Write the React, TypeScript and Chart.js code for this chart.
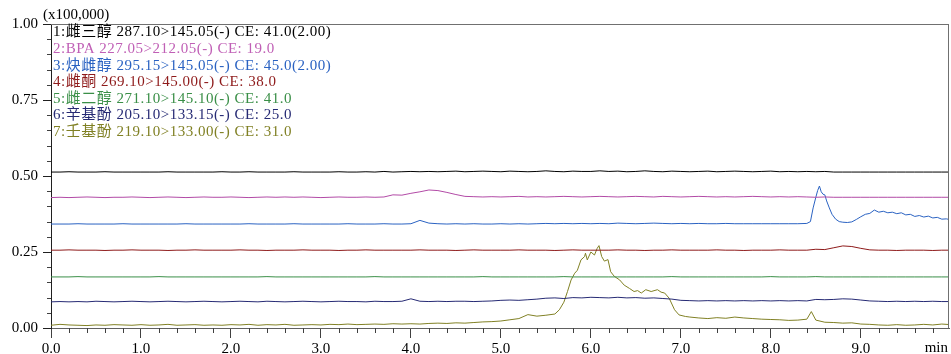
import React, { useEffect, useRef } from "react";
import { Chart, registerables } from "chart.js";

Chart.register(...registerables);

// ---- time axis (min) shared by most traces ----
const timeGrid = [
  0.0, 0.1, 0.2, 0.3, 0.4, 0.5, 0.6, 0.7, 0.8, 0.9,
  1.0, 1.1, 1.2, 1.3, 1.4, 1.5, 1.6, 1.7, 1.8, 1.9,
  2.0, 2.1, 2.2, 2.3, 2.4, 2.5, 2.6, 2.7, 2.8, 2.9,
  3.0, 3.1, 3.2, 3.3, 3.4, 3.5, 3.6, 3.7, 3.8, 3.9,
  4.0, 4.1, 4.2, 4.3, 4.4, 4.5, 4.6, 4.7, 4.8, 4.9,
  5.0, 5.1, 5.2, 5.3, 5.4, 5.5, 5.6, 5.7, 5.8, 5.9,
  6.0, 6.1, 6.2, 6.3, 6.4, 6.5, 6.6, 6.7, 6.8, 6.9,
  7.0, 7.1, 7.2, 7.3, 7.4, 7.5, 7.6, 7.7, 7.8, 7.9,
  8.0, 8.1, 8.2, 8.3, 8.4, 8.5, 8.6, 8.7, 8.8, 8.9,
  9.0, 9.1, 9.2, 9.3, 9.4, 9.5, 9.6, 9.7, 9.8, 9.9, 10.0,
];

// 1: 雌三醇 (black)
const estriol = [
  0.513, 0.513, 0.514, 0.513, 0.513, 0.513, 0.514, 0.513, 0.513, 0.513,
  0.513, 0.513, 0.513, 0.514, 0.513, 0.513, 0.513, 0.513, 0.513, 0.514,
  0.513, 0.513, 0.514, 0.513, 0.513, 0.513, 0.513, 0.514, 0.513, 0.513,
  0.513, 0.513, 0.514, 0.513, 0.513, 0.514, 0.513, 0.515, 0.513, 0.514,
  0.515, 0.514, 0.515, 0.514, 0.515, 0.516, 0.514, 0.515, 0.516, 0.515,
  0.514, 0.516, 0.515, 0.514, 0.515, 0.517, 0.515, 0.514, 0.516, 0.515,
  0.515, 0.517, 0.515, 0.516, 0.514, 0.515, 0.517, 0.515, 0.514, 0.516,
  0.515, 0.514, 0.515, 0.516, 0.514, 0.515, 0.516, 0.515, 0.514, 0.515,
  0.516, 0.514, 0.515, 0.514, 0.515, 0.514, 0.515, 0.513, 0.513, 0.513,
  0.513, 0.513, 0.513, 0.513, 0.513, 0.513, 0.513, 0.513, 0.513, 0.513, 0.513,
];

// 2: BPA (magenta)
const bpa = [
  0.429, 0.430, 0.429, 0.430, 0.431, 0.430, 0.429, 0.430, 0.430, 0.431,
  0.430, 0.429, 0.430, 0.431, 0.430, 0.429, 0.430, 0.431, 0.430, 0.430,
  0.431, 0.430, 0.429, 0.430, 0.431, 0.430, 0.431, 0.430, 0.431, 0.430,
  0.429, 0.430, 0.431, 0.430, 0.430, 0.431, 0.430, 0.431, 0.438, 0.437,
  0.443, 0.448, 0.454, 0.452, 0.446, 0.439, 0.433, 0.432, 0.431, 0.432,
  0.431, 0.432, 0.433, 0.431, 0.432, 0.431, 0.432, 0.433, 0.432, 0.431,
  0.432, 0.433, 0.432, 0.431, 0.432, 0.433, 0.432, 0.431, 0.433, 0.432,
  0.431, 0.432, 0.433, 0.432, 0.431, 0.432, 0.431, 0.432, 0.433, 0.432,
  0.431, 0.432, 0.431, 0.432, 0.431, 0.430, 0.431, 0.430, 0.430, 0.430,
  0.430, 0.430, 0.430, 0.430, 0.430, 0.430, 0.430, 0.430, 0.430, 0.430, 0.430,
];

// 3: 炔雌醇 (blue) — own time axis, finer around the 8.5 min peak
const ethinylTime = [
  0.0, 0.1, 0.2, 0.3, 0.4, 0.5, 0.6, 0.7, 0.8, 0.9,
  1.0, 1.1, 1.2, 1.3, 1.4, 1.5, 1.6, 1.7, 1.8, 1.9,
  2.0, 2.1, 2.2, 2.3, 2.4, 2.5, 2.6, 2.7, 2.8, 2.9,
  3.0, 3.1, 3.2, 3.3, 3.4, 3.5, 3.6, 3.7, 3.8, 3.9,
  4.0, 4.1, 4.2, 4.3, 4.4, 4.5, 4.6, 4.7, 4.8, 4.9,
  5.0, 5.1, 5.2, 5.3, 5.4, 5.5, 5.6, 5.7, 5.8, 5.9,
  6.0, 6.1, 6.2, 6.3, 6.4, 6.5, 6.6, 6.7, 6.8, 6.9,
  7.0, 7.1, 7.2, 7.3, 7.4, 7.5, 7.6, 7.7, 7.8, 7.9,
  8.0, 8.1, 8.2, 8.3, 8.4,
  8.44, 8.47, 8.5, 8.52, 8.54, 8.56, 8.58, 8.6, 8.62, 8.65,
  8.68, 8.72, 8.76, 8.8, 8.85, 8.9, 8.95, 9.0,
  9.05, 9.1, 9.15, 9.2, 9.25, 9.3, 9.35, 9.4, 9.45, 9.5,
  9.55, 9.6, 9.65, 9.7, 9.75, 9.8, 9.85, 9.9, 9.95, 10.0,
];
const ethinyl = [
  0.342, 0.342, 0.342, 0.343, 0.342, 0.342, 0.342, 0.342, 0.343, 0.342,
  0.342, 0.342, 0.342, 0.342, 0.342, 0.343, 0.342, 0.342, 0.342, 0.342,
  0.342, 0.342, 0.343, 0.342, 0.342, 0.342, 0.342, 0.343, 0.342, 0.342,
  0.342, 0.342, 0.342, 0.343, 0.342, 0.342, 0.342, 0.343, 0.342, 0.342,
  0.343, 0.354, 0.345, 0.343, 0.342, 0.343, 0.342, 0.343, 0.342, 0.342,
  0.343, 0.342, 0.343, 0.342, 0.343, 0.344, 0.343, 0.344, 0.343, 0.344,
  0.343, 0.344, 0.343, 0.345, 0.344, 0.343, 0.344, 0.345, 0.344, 0.343,
  0.344, 0.343, 0.344, 0.343, 0.343, 0.344, 0.343, 0.343, 0.343, 0.343,
  0.343, 0.343, 0.343, 0.343, 0.344,
  0.350, 0.395, 0.430, 0.452, 0.467, 0.448, 0.440, 0.438, 0.418, 0.395,
  0.374, 0.358, 0.350, 0.348, 0.347, 0.349, 0.357, 0.366,
  0.374, 0.377, 0.388, 0.381, 0.384, 0.379, 0.381, 0.376, 0.379, 0.372,
  0.374, 0.367, 0.370, 0.365, 0.368, 0.362, 0.364, 0.358, 0.359, 0.356,
];

// 4: 雌酮 (dark red)
const estrone = [
  0.256, 0.256, 0.257, 0.256, 0.256, 0.256, 0.255, 0.256, 0.256, 0.257,
  0.256, 0.256, 0.256, 0.255, 0.256, 0.256, 0.257, 0.256, 0.256, 0.256,
  0.256, 0.257, 0.256, 0.256, 0.255, 0.256, 0.256, 0.256, 0.257, 0.256,
  0.256, 0.256, 0.255, 0.256, 0.256, 0.257, 0.256, 0.256, 0.256, 0.256,
  0.256, 0.257, 0.256, 0.256, 0.256, 0.255, 0.256, 0.257, 0.256, 0.256,
  0.256, 0.256, 0.257, 0.256, 0.256, 0.256, 0.255, 0.256, 0.257, 0.256,
  0.256, 0.256, 0.256, 0.257, 0.256, 0.256, 0.255, 0.256, 0.256, 0.257,
  0.256, 0.256, 0.256, 0.256, 0.257, 0.256, 0.256, 0.255, 0.256, 0.256,
  0.256, 0.257, 0.256, 0.256, 0.256, 0.259, 0.258, 0.264, 0.270, 0.268,
  0.262, 0.257, 0.256, 0.256, 0.255, 0.256, 0.256, 0.256, 0.255, 0.256, 0.256,
];

// 5: 雌二醇 (green)
const estradiol = [
  0.168, 0.168, 0.168, 0.169, 0.168, 0.168, 0.168, 0.168, 0.168, 0.168,
  0.168, 0.168, 0.169, 0.168, 0.168, 0.168, 0.168, 0.168, 0.168, 0.168,
  0.168, 0.168, 0.168, 0.168, 0.169, 0.168, 0.168, 0.168, 0.168, 0.168,
  0.168, 0.168, 0.168, 0.168, 0.168, 0.168, 0.169, 0.168, 0.168, 0.168,
  0.168, 0.168, 0.168, 0.168, 0.168, 0.168, 0.168, 0.168, 0.169, 0.168,
  0.168, 0.168, 0.168, 0.168, 0.168, 0.168, 0.168, 0.169, 0.168, 0.168,
  0.168, 0.168, 0.168, 0.168, 0.168, 0.168, 0.168, 0.168, 0.168, 0.169,
  0.168, 0.168, 0.168, 0.168, 0.168, 0.168, 0.168, 0.168, 0.168, 0.168,
  0.169, 0.168, 0.168, 0.168, 0.168, 0.169, 0.168, 0.168, 0.168, 0.168,
  0.168, 0.168, 0.168, 0.168, 0.168, 0.168, 0.168, 0.168, 0.168, 0.168, 0.168,
];

// 6: 辛基酚 (navy)
const octylphenol = [
  0.086, 0.087, 0.086, 0.087, 0.086, 0.088, 0.087, 0.086, 0.087, 0.088,
  0.087, 0.086, 0.087, 0.088, 0.087, 0.086, 0.087, 0.088, 0.087, 0.086,
  0.087, 0.088, 0.087, 0.086, 0.088, 0.087, 0.086, 0.087, 0.088, 0.087,
  0.086, 0.087, 0.088, 0.087, 0.087, 0.086, 0.088, 0.087, 0.087, 0.088,
  0.096, 0.088, 0.087, 0.088, 0.087, 0.088, 0.088, 0.087, 0.088, 0.089,
  0.091, 0.092, 0.091, 0.093, 0.095, 0.098, 0.099, 0.097, 0.100, 0.099,
  0.101, 0.100, 0.099, 0.101, 0.099, 0.100, 0.098, 0.099, 0.097, 0.095,
  0.091, 0.090, 0.089, 0.090, 0.089, 0.090, 0.089, 0.090, 0.089, 0.090,
  0.089, 0.090, 0.089, 0.090, 0.089, 0.094, 0.093, 0.094, 0.096, 0.095,
  0.092, 0.089, 0.088, 0.087, 0.088, 0.087, 0.088, 0.087, 0.088, 0.087, 0.087,
];

// 7: 壬基酚 (olive) — own time axis, finer across the 5.5–7.0 min peak
const nonylTime = [
  0.0, 0.1, 0.2, 0.3, 0.4, 0.5, 0.6, 0.7, 0.8, 0.9,
  1.0, 1.1, 1.2, 1.3, 1.4, 1.5, 1.6, 1.7, 1.8, 1.9,
  2.0, 2.1, 2.2, 2.3, 2.4, 2.5, 2.6, 2.7, 2.8, 2.9,
  3.0, 3.1, 3.2, 3.3, 3.4, 3.5, 3.6, 3.7, 3.8, 3.9,
  4.0, 4.1, 4.2, 4.3, 4.4, 4.5, 4.6, 4.7, 4.8, 4.9,
  5.0, 5.1, 5.2, 5.3, 5.4, 5.5,
  5.6, 5.65, 5.7, 5.74, 5.78, 5.82, 5.85, 5.89, 5.93, 5.94,
  5.96, 6.0, 6.04, 6.07, 6.09, 6.12, 6.15, 6.19, 6.22, 6.26,
  6.32, 6.37, 6.43, 6.48, 6.52, 6.56, 6.61, 6.67, 6.74, 6.78,
  6.82, 6.87, 6.93, 6.98, 7.05,
  7.1, 7.2, 7.3, 7.4, 7.5, 7.6, 7.7, 7.8, 7.9,
  8.0, 8.1, 8.2, 8.3, 8.4, 8.45, 8.5, 8.6, 8.7, 8.8, 8.9,
  9.0, 9.1, 9.2, 9.3, 9.4, 9.5, 9.6, 9.7, 9.8, 9.9, 10.0,
];
const nonylphenol = [
  0.009, 0.012, 0.010, 0.009, 0.008, 0.010, 0.009, 0.011, 0.010, 0.009,
  0.011, 0.009, 0.010, 0.012, 0.009, 0.010, 0.011, 0.009, 0.010, 0.009,
  0.011, 0.010, 0.012, 0.009, 0.011, 0.010, 0.012, 0.009, 0.010, 0.011,
  0.010, 0.012, 0.011, 0.013, 0.011, 0.012, 0.013, 0.012, 0.014, 0.013,
  0.014, 0.013, 0.015, 0.016, 0.015, 0.017, 0.016, 0.018, 0.020, 0.021,
  0.023, 0.027, 0.031, 0.044, 0.039, 0.042,
  0.046, 0.060, 0.085, 0.120, 0.158, 0.180, 0.190, 0.224, 0.235, 0.246,
  0.224, 0.250, 0.240, 0.262, 0.271, 0.235, 0.220, 0.225, 0.185, 0.170,
  0.158, 0.141, 0.130, 0.120, 0.123, 0.115, 0.126, 0.120, 0.126, 0.118,
  0.115, 0.098, 0.060, 0.043, 0.038,
  0.036, 0.033, 0.031, 0.034, 0.032, 0.036, 0.033, 0.031, 0.029,
  0.028, 0.027, 0.025, 0.026, 0.029, 0.054, 0.026, 0.019, 0.018, 0.016, 0.017,
  0.013, 0.012, 0.010, 0.009, 0.011, 0.009, 0.010, 0.012, 0.010, 0.013, 0.011,
];

// ---- legend / axis text ----
const legendLabels = [
  "1:雌三醇 287.10>145.05(-) CE: 41.0(2.00)",
  "2:BPA 227.05>212.05(-) CE: 19.0",
  "3:炔雌醇 295.15>145.05(-) CE: 45.0(2.00)",
  "4:雌酮 269.10>145.00(-) CE: 38.0",
  "5:雌二醇 271.10>145.10(-) CE: 41.0",
  "6:辛基酚 205.10>133.15(-) CE: 25.0",
  "7:壬基酚 219.10>133.00(-) CE: 31.0",
];
const seriesColors = ["#000000", "#b24aa6", "#2a62c2", "#8e1a1a", "#3a8f47", "#262a74", "#808024"];
const legendColors = ["#000000", "#c060b6", "#2a62c2", "#8e1a1a", "#3a8f47", "#262a74", "#808024"];

const xMajorTicks = [0, 1, 2, 3, 4, 5, 6, 7, 8, 9];
const xTickLabels = ["0.0", "1.0", "2.0", "3.0", "4.0", "5.0", "6.0", "7.0", "8.0", "9.0"];
const yMajorTicks = [0, 0.25, 0.5, 0.75, 1.0];
const yTickLabels = ["0.00", "0.25", "0.50", "0.75", "1.00"];
const yUnitLabel = "(x100,000)";
const xUnitLabel = "min";

const X_MAX = 9.98;
const SERIF = '"Liberation Serif", "Times New Roman", "Noto Sans CJK SC", serif';

const seriesTimes = [timeGrid, timeGrid, ethinylTime, timeGrid, timeGrid, timeGrid, nonylTime];
const seriesValues = [estriol, bpa, ethinyl, estrone, estradiol, octylphenol, nonylphenol];

const overlayPlugin = {
  id: "chromOverlay",
  afterDraw(chart: any) {
    const { ctx, chartArea } = chart;
    const xs = chart.scales.x;
    const ys = chart.scales.y;
    ctx.save();
    // frame top + right
    ctx.strokeStyle = "#707070";
    ctx.lineWidth = 1;
    ctx.beginPath();
    ctx.moveTo(chartArea.left, Math.round(chartArea.top) + 0.5);
    ctx.lineTo(chartArea.right, Math.round(chartArea.top) + 0.5);
    ctx.moveTo(Math.round(chartArea.right) - 0.5, chartArea.top);
    ctx.lineTo(Math.round(chartArea.right) - 0.5, chartArea.bottom);
    ctx.stroke();

    // minor ticks
    ctx.strokeStyle = "#404040";
    ctx.beginPath();
    for (let i = 1; i < 50; i++) {
      if (i % 5 === 0) continue;
      const px = Math.round(xs.getPixelForValue(i * 0.2)) + 0.5;
      ctx.moveTo(px, chartArea.bottom);
      ctx.lineTo(px, chartArea.bottom + 5);
    }
    for (let i = 1; i < 20; i++) {
      if (i % 5 === 0) continue;
      const py = Math.round(ys.getPixelForValue(i * 0.05)) + 0.5;
      ctx.moveTo(chartArea.left, py);
      ctx.lineTo(chartArea.left - 4, py);
    }
    ctx.stroke();

    // unit labels
    ctx.fillStyle = "#000";
    ctx.font = `15px ${SERIF}`;
    ctx.textBaseline = "middle";
    ctx.textAlign = "left";
    ctx.fillText(yUnitLabel, 43, 15);
    ctx.textAlign = "right";
    ctx.fillText(xUnitLabel, 948, 348);

    // legend text
    ctx.textAlign = "left";
    try {
      (ctx as any).letterSpacing = "0.5px";
    } catch (e) {
      /* ignore */
    }
    legendLabels.forEach((lab, i) => {
      ctx.fillStyle = legendColors[i];
      ctx.fillText(lab, chartArea.left + 2, 32.5 + i * 16.6);
    });
    ctx.restore();
  },
};

export default function App() {
  const ref = useRef<HTMLCanvasElement | null>(null);
  useEffect(() => {
    if (!ref.current) return;
    const chart = new Chart(ref.current, {
      type: "line",
      data: {
        datasets: seriesValues.map((vals, i) => ({
          label: legendLabels[i],
          data: vals.map((v, j) => ({ x: seriesTimes[i][j], y: v })),
          borderColor: seriesColors[i],
          borderWidth: 1,
          pointRadius: 0,
          tension: 0,
          fill: false,
        })),
      },
      options: {
        animation: false,
        responsive: false,
        devicePixelRatio: 1,
        layout: { padding: { top: 24, right: 2, left: 0, bottom: 0 } },
        plugins: { legend: { display: false }, tooltip: { enabled: false } },
        scales: {
          x: {
            type: "linear",
            min: 0,
            max: X_MAX,
            grid: { display: true, drawOnChartArea: false, drawTicks: true, tickLength: 10, color: "#404040" },
            border: { display: true, color: "#606060", width: 1 },
            afterBuildTicks: (s: any) => {
              s.ticks = xMajorTicks.map((v) => ({ value: v }));
            },
            afterFit: (s: any) => {
              s.height = 26;
            },
            ticks: {
              autoSkip: false,
              maxRotation: 0,
              padding: 2,
              color: "#000",
              font: { family: SERIF, size: 15 },
              callback: (_v: any, idx: number) => xTickLabels[idx],
            },
          },
          y: {
            type: "linear",
            min: 0,
            max: 1,
            grid: { display: true, drawOnChartArea: false, drawTicks: true, tickLength: 8, color: "#202020" },
            border: { display: true, color: "#202020", width: 1 },
            afterBuildTicks: (s: any) => {
              s.ticks = yMajorTicks.map((v) => ({ value: v }));
            },
            afterFit: (s: any) => {
              s.width = 51;
            },
            ticks: {
              padding: 5,
              color: "#000",
              font: { family: SERIF, size: 15 },
              callback: (_v: any, idx: number) => yTickLabels[idx],
            },
          },
        },
      },
      plugins: [overlayPlugin],
    });
    return () => chart.destroy();
  }, []);
  return (
    <div style={{ position: "fixed", left: 0, top: 0, width: 951, height: 354, background: "#fff" }}>
      <canvas ref={ref} width={951} height={354} style={{ display: "block", width: 951, height: 354 }} />
    </div>
  );
}
